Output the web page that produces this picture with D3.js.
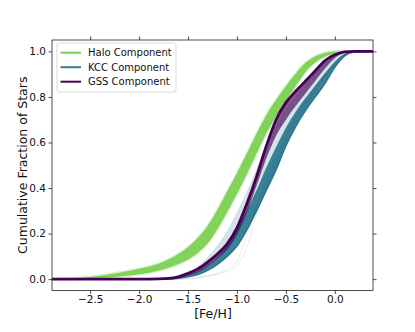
<!DOCTYPE html>
<html>
<head>
<meta charset="utf-8">
<script src="https://cdn.jsdelivr.net/npm/d3@7"></script>
<style>
  body { margin: 0; background: #fff; }
  svg { display: block; font-family: "DejaVu Sans", sans-serif; }
</style>
</head>
<body>
<svg id="chart"></svg>
<script>
// shared [Fe/H] grid for every curve
const feh = [-2.89, -2.6, -2.4, -2.2, -2.0, -1.8, -1.7, -1.6, -1.5, -1.4, -1.3, -1.2, -1.1, -1.0,
    -0.9, -0.8, -0.7, -0.6, -0.5, -0.4, -0.3, -0.2, -0.1, 0.0, 0.1, 0.2, 0.39];

// Halo component band (upper / lower envelope) + faint outlier
const haloHigh = [0, .006, .015, .028, .045, .068, .086, .11, .14, .18, .233, .304, .385, .465,
    .55, .638, .72, .786, .847, .902, .95, .978, .993, .999, 1, 1, 1];
const haloLow = [0, .002, .005, .012, .021, .038, .05, .066, .086, .116, .157, .22, .295, .375,
    .46, .552, .64, .714, .783, .848, .91, .952, .977, .991, 1, 1, 1];
const haloOut = [0, .008, .02, .035, .055, .085, .11, .14, .18, .235, .3, .38, .46, .545,
    .63, .715, .79, .85, .9, .94, .97, .988, .996, 1, 1, 1, 1];

// KCC component: light fan top, dense band top, dense band bottom
const kccHigh = [0, 0, 0, 0, 0, .002, .006, .014, .03, .055, .095, .145, .21, .29,
    .38, .48, .58, .67, .745, .80, .855, .905, .95, .98, .995, 1, 1];
const kccMid = [0, 0, 0, 0, 0, 0, .002, .008, .018, .035, .06, .095, .145, .215,
    .30, .39, .49, .58, .665, .735, .795, .85, .905, .955, .99, 1, 1];
const kccLow = [0, 0, 0, 0, 0, 0, .001, .004, .01, .02, .038, .065, .10, .145,
    .215, .30, .39, .48, .585, .67, .74, .80, .86, .93, .98, .997, 1];

// GSS component band + two faint outliers
const gssHigh = [0, 0, 0, 0, 0, .001, .003, .01, .025, .045, .075, .11, .155, .225,
    .33, .45, .585, .70, .775, .825, .87, .915, .96, .985, .998, 1, 1];
const gssLow = [0, 0, 0, 0, 0, 0, .001, .005, .015, .03, .055, .09, .13, .195,
    .29, .41, .53, .63, .70, .76, .815, .87, .925, .97, .995, 1, 1];
const gssOut1 = [0, 0, 0, 0, 0, 0, 0, 0, .003, .008, .015, .025, .045, .08,
    .19, .32, .43, .53, .63, .71, .78, .84, .90, .95, .985, 1, 1];
const gssOut2 = [0, 0, 0, 0, 0, 0, 0, 0, 0, .005, .012, .022, .035, .06,
    .14, .28, .40, .50, .61, .69, .76, .825, .89, .94, .98, 1, 1];

const xTicks = [-2.5, -2.0, -1.5, -1.0, -0.5, 0.0];
const yTicks = [0.0, 0.2, 0.4, 0.6, 0.8, 1.0];
const legendNames = ["Halo Component", "KCC Component", "GSS Component"];
const legendColors = ["#7ad151", "#2f7d92", "#440154"];

const W = 415, H = 332;
const plot = { left: 52, right: 373, top: 40, bottom: 290.5 };

const svg = d3.select("#chart").attr("width", W).attr("height", H);
svg.append("rect").attr("width", W).attr("height", H).attr("fill", "#fff");

const x = d3.scaleLinear().domain([-2.89, 0.39]).range([plot.left, plot.right]);
const y = d3.scaleLinear().domain([-0.05, 1.05]).range([plot.bottom, plot.top]);

svg.append("clipPath").attr("id", "clip")
    .append("rect")
    .attr("x", plot.left).attr("y", plot.top)
    .attr("width", plot.right - plot.left).attr("height", plot.bottom - plot.top);

const g = svg.append("g").attr("clip-path", "url(#clip)");

const band = (hi, lo) => d3.area()
    .x((d, i) => x(feh[i]))
    .y0((d, i) => y(lo[i]))
    .y1((d, i) => y(hi[i]))
    .curve(d3.curveMonotoneX)(feh);
const line = (vals) => d3.line()
    .x((d, i) => x(feh[i]))
    .y((d, i) => y(vals[i]))
    .curve(d3.curveMonotoneX)(feh);

// Halo
g.append("path").attr("d", line(haloOut)).attr("fill", "none")
    .attr("stroke", "#7ad151").attr("stroke-opacity", 0.08).attr("stroke-width", 1);
g.append("path").attr("d", band(haloHigh, haloLow))
    .attr("fill", "#7ad151").attr("fill-opacity", 0.95)
    .attr("stroke", "#7ad151").attr("stroke-opacity", 0.3).attr("stroke-width", 2.5);

// KCC
g.append("path").attr("d", band(kccHigh, kccLow))
    .attr("fill", "#2a788e").attr("fill-opacity", 0.2)
    .attr("stroke", "#2a788e").attr("stroke-opacity", 0.12).attr("stroke-width", 1);
g.append("path").attr("d", band(kccMid, kccLow))
    .attr("fill", "#2a788e").attr("fill-opacity", 0.92);
g.append("path").attr("d", line(kccLow)).attr("fill", "none")
    .attr("stroke", "#2a788e").attr("stroke-width", 1.5);

// GSS
[gssOut1, gssOut2].forEach(vals => {
    g.append("path").attr("d", line(vals)).attr("fill", "none")
        .attr("stroke", "#440154").attr("stroke-opacity", 0.12).attr("stroke-width", 0.8);
});
g.append("path").attr("d", band(gssHigh, gssLow))
    .attr("fill", "#440154").attr("fill-opacity", 0.65);
g.append("path").attr("d", line(gssHigh)).attr("fill", "none")
    .attr("stroke", "#440154").attr("stroke-width", 2.8);

// axes, ticks on all four sides
const fmt = d3.format(".1f");
const styleAxis = sel => {
    sel.select(".domain").remove();
    sel.selectAll(".tick line").attr("stroke", "#222").attr("stroke-width", 0.8);
    sel.selectAll(".tick text").attr("fill", "#111").style("font-size", "10.5px")
        .style("font-family", "DejaVu Sans");
};
svg.append("g").attr("transform", `translate(0,${plot.bottom})`)
    .call(d3.axisBottom(x).tickValues(xTicks).tickFormat(fmt).tickSize(3.5).tickPadding(1.5))
    .call(styleAxis);
svg.append("g").attr("transform", `translate(0,${plot.top})`)
    .call(d3.axisTop(x).tickValues(xTicks).tickFormat("").tickSize(3.5))
    .call(styleAxis);
svg.append("g").attr("transform", `translate(${plot.left},0)`)
    .call(d3.axisLeft(y).tickValues(yTicks).tickFormat(fmt).tickSize(3.5).tickPadding(2.5))
    .call(styleAxis);
svg.append("g").attr("transform", `translate(${plot.right},0)`)
    .call(d3.axisRight(y).tickValues(yTicks).tickFormat("").tickSize(3.5))
    .call(styleAxis);

svg.append("rect")
    .attr("x", plot.left).attr("y", plot.top)
    .attr("width", plot.right - plot.left).attr("height", plot.bottom - plot.top)
    .attr("fill", "none").attr("stroke", "#222").attr("stroke-width", 0.8);

// labels
svg.append("text")
    .attr("x", (plot.left + plot.right) / 2 + 0.5).attr("y", 318)
    .attr("text-anchor", "middle").style("font-size", "12.5px").attr("fill", "#111")
    .text("[Fe/H]");
svg.append("text")
    .attr("transform", `translate(27,${(plot.top + plot.bottom) / 2}) rotate(-90)`)
    .attr("text-anchor", "middle").style("font-size", "12.5px").attr("fill", "#111")
    .text("Cumulative Fraction of Stars");

// legend
const legend = svg.append("g").attr("transform", "translate(57,43)");
legend.append("rect")
    .attr("width", 119).attr("height", 49).attr("rx", 2.5)
    .attr("fill", "#fff").attr("fill-opacity", 0.8)
    .attr("stroke", "#d0d0d0").attr("stroke-width", 0.8);
legendNames.forEach((name, i) => {
    const ly = 9.7 + i * 14.5;
    legend.append("line")
        .attr("x1", 3.5).attr("x2", 24).attr("y1", ly).attr("y2", ly)
        .attr("stroke", legendColors[i]).attr("stroke-width", 2);
    legend.append("text")
        .attr("x", 31).attr("y", ly + 3.6)
        .style("font-size", "10px").attr("fill", "#111")
        .text(name);
});
</script>
</body>
</html>
